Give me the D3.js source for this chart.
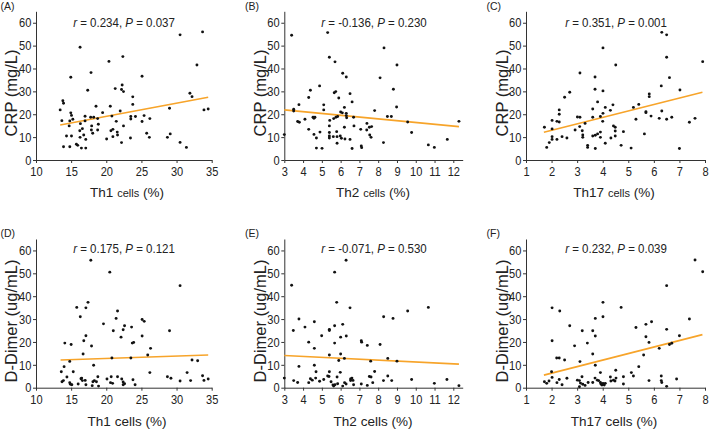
<!DOCTYPE html>
<html><head><meta charset="utf-8">
<script src="https://cdn.jsdelivr.net/npm/d3@7/dist/d3.min.js"></script>
<style>
body{margin:0;background:#fff}
svg{display:block}
text{font-family:"Liberation Sans",Arial,Helvetica,sans-serif;fill:#222}
</style></head>
<body><svg id="chart" width="709" height="432"></svg>
<script>
// ---------------- DATA ----------------
const th1Ticks = [10, 15, 20, 25, 30, 35];
const th2Ticks = [3, 4, 5, 6, 7, 8, 9, 10, 11, 12];
const th17Ticks = [1, 2, 3, 4, 5, 6, 7, 8];
const yTicks = [0, 10, 20, 30, 40, 50, 60];

// (A) Th1 vs CRP
const ptsA = [[16.27,49.3],[20.38,43.1],[22.36,45.2],[17.83,38.2],[14.95,36.2],[25.09,36.6],[17.36,30.5],[21.27,31.2],[22.26,32.8],[22.17,30.8],[22.45,29.9],[23.77,27.6],[13.82,25.9],[13.92,24.8],[13.44,21.9],[18.54,23.5],[20.57,23.5],[23.77,24.3],[19.48,20.7],[21.98,21.4],[14.95,20.6],[15.05,19.5],[13.68,17.2],[14.81,17.1],[15.24,17.8],[16.98,19.1],[17.78,18.7],[18.21,18.7],[18.77,18.1],[16.98,17.1],[20.8,19.2],[23.49,19.0],[23.49,17.9],[24.15,19.0],[25.38,19.4],[25.09,16.8],[26.2,18.1],[14.72,14.9],[16.32,15.9],[17.92,14.9],[18.87,15.6],[21.42,16.9],[16.6,13.7],[17.88,13.1],[18.77,13.1],[16.23,12.8],[18.07,11.7],[20.66,12.8],[20.94,13.4],[21.56,12.2],[22.45,14.9],[14.34,10.5],[15.05,10.5],[16.79,10.9],[16.27,9.9],[17.08,9.0],[20.05,9.2],[20.94,10.2],[21.6,10.9],[23.44,9.6],[22.17,7.6],[25.75,11.7],[26.13,9.9],[13.92,5.8],[14.81,5.8],[15.75,6.9],[15.94,6.4],[16.46,5.2],[17.08,5.2],[28.7,9.9],[29.0,22.6],[29.1,11.4],[30.5,54.7],[30.5,7.7],[31.4,5.5],[31.9,29.2],[32.2,27.7],[32.9,41.5],[33.7,56.0],[33.9,21.9],[34.5,22.3]];
// (B) Th2 vs CRP
const ptsB = [[3.39,54.5],[5.31,55.7],[8.31,49.0],[5.40,44.9],[5.70,42.9],[6.11,37.9],[6.30,36.3],[8.10,35.9],[4.88,32.4],[4.39,30.5],[5.74,29.9],[5.66,29.4],[8.81,30.9],[5.90,27.1],[4.30,27.3],[6.50,29.0],[6.61,25.4],[3.78,24.2],[5.10,24.1],[5.10,21.9],[3.50,22.2],[3.50,21.4],[6.20,23.0],[6.00,21.0],[6.09,20.6],[6.30,20.4],[6.30,19.4],[6.32,18.5],[6.69,18.7],[7.81,21.6],[8.49,19.0],[8.70,19.0],[3.71,16.8],[3.80,16.5],[4.10,17.8],[4.53,18.7],[4.58,18.2],[4.63,18.7],[5.42,17.3],[5.63,18.1],[5.75,18.7],[5.84,19.0],[5.40,14.9],[6.20,14.3],[6.71,14.9],[7.53,14.3],[7.40,16.0],[7.65,14.6],[4.30,13.4],[4.90,12.2],[5.40,12.0],[5.79,12.4],[7.07,13.4],[7.39,13.1],[4.58,11.2],[4.71,9.6],[5.40,10.5],[5.40,9.6],[5.61,10.2],[5.81,10.2],[5.98,10.5],[6.04,9.5],[6.23,9.2],[6.50,9.0],[7.55,10.9],[7.62,9.9],[5.81,7.3],[8.28,7.6],[4.71,5.2],[5.01,5.1],[6.61,5.0],[7.10,6.1],[7.12,5.4],[3.0,11.1],[8.98,23.2],[9.0,41.5],[9.57,16.6],[9.78,12.0],[10.67,6.6],[10.99,5.5],[11.68,9.0],[12.30,16.9]];
// (C) Th17 vs CRP
const ptsC = [[4.01,49.0],[4.51,41.5],[3.11,38.0],[3.70,36.3],[3.70,30.9],[4.01,30.2],[2.71,29.6],[2.51,27.4],[3.80,25.4],[4.40,24.1],[4.10,23.0],[4.30,21.7],[2.30,21.9],[3.61,22.3],[5.20,23.0],[5.41,24.3],[5.30,17.8],[2.30,20.0],[4.01,20.4],[2.02,17.3],[2.21,16.9],[2.30,16.6],[3.01,18.8],[3.11,18.7],[3.61,18.7],[3.91,19.0],[4.00,16.9],[3.31,16.0],[1.72,14.3],[2.02,13.6],[2.92,13.1],[3.10,14.6],[3.20,12.8],[4.42,14.9],[4.49,14.3],[4.81,12.4],[3.71,10.8],[3.80,11.4],[3.91,12.2],[3.61,10.5],[3.22,10.9],[3.22,9.9],[4.49,12.7],[4.49,10.5],[4.32,9.6],[2.02,10.2],[2.02,9.0],[2.21,9.0],[2.41,10.2],[2.60,9.6],[3.91,9.9],[4.10,7.3],[4.72,6.4],[1.91,7.6],[1.81,5.5],[3.41,6.4],[3.41,5.5],[3.71,5.0],[5.11,5.2],[5.63,11.4],[5.69,21.1],[5.69,20.7],[5.82,28.9],[5.82,27.7],[5.89,19.2],[6.21,18.2],[6.29,32.4],[6.31,21.4],[6.31,55.8],[6.50,54.7],[6.50,44.9],[6.50,17.8],[6.61,36.0],[6.70,18.7],[7.02,30.6],[7.00,5.0],[7.39,16.5],[7.61,18.2],[7.91,43.0]];
// (D) Th1 vs D-Dimer
const ptsD = [[17.8,55.7],[20.5,50.5],[17.4,37.3],[15.8,35.1],[17.1,34.9],[21.6,33.5],[16.3,31.0],[21.4,30.3],[25.1,29.8],[25.4,29.0],[19.6,27.9],[22.6,27.1],[23.6,26.5],[21.0,24.9],[22.4,25.3],[17.1,22.7],[22.1,22.1],[25.1,22.6],[16.8,20.5],[14.1,19.5],[15.0,18.9],[17.9,18.2],[23.7,19.5],[23.9,19.8],[26.3,17.2],[25.9,14.3],[16.7,14.7],[20.8,13.0],[23.5,13.0],[18.2,9.8],[14.0,9.2],[14.8,11.5],[13.6,7.0],[15.3,7.0],[26.2,6.6],[14.4,4.7],[13.7,2.6],[13.9,3.1],[14.8,2.2],[14.9,1.5],[15.1,1.3],[16.0,1.6],[16.4,3.9],[16.5,4.2],[16.6,3.1],[17.0,3.2],[17.1,1.3],[18.1,2.6],[18.3,3.1],[18.8,4.8],[18.6,2.6],[18.9,0.7],[18.0,0.9],[20.1,3.8],[20.7,4.8],[20.6,2.2],[20.9,1.9],[21.6,4.8],[22.2,3.8],[22.4,2.5],[22.6,1.7],[22.4,1.3],[23.8,3.5],[24.1,1.3],[28.7,4.8],[29.0,24.9],[29.2,4.1],[30.5,44.6],[30.5,2.9],[31.5,6.6],[32.0,3.1],[32.2,12.1],[33.0,11.8],[33.7,5.2],[33.9,3.2],[34.5,3.8]];
// (E) Th2 vs D-Dimer
const ptsE = [[6.29,55.7],[5.68,50.5],[3.39,44.8],[5.79,37.3],[6.50,34.9],[8.29,31.0],[8.79,30.3],[3.78,30.0],[4.60,28.8],[4.10,26.5],[5.68,27.1],[6.11,27.7],[5.40,25.5],[5.40,25.0],[3.48,25.0],[4.99,22.7],[6.00,22.1],[6.30,22.6],[7.10,20.5],[7.12,19.9],[7.42,18.5],[8.10,18.9],[4.30,19.9],[5.68,19.5],[4.60,17.2],[5.40,14.3],[6.00,14.7],[6.20,12.8],[5.90,11.9],[7.60,11.6],[8.51,12.8],[3.78,9.3],[4.60,9.8],[4.69,7.0],[5.40,7.0],[5.98,6.7],[7.81,7.1],[3.0,4.2],[3.50,3.1],[3.71,2.3],[4.30,2.2],[4.39,3.9],[4.49,3.3],[4.67,4.2],[4.88,2.8],[5.10,3.6],[5.31,5.1],[5.38,4.9],[5.49,2.6],[5.59,1.2],[5.63,0.7],[5.70,1.3],[5.81,4.7],[5.84,1.7],[6.11,0.7],[6.21,2.2],[6.29,1.6],[6.53,3.8],[6.60,4.2],[6.66,3.2],[6.53,3.1],[6.69,1.3],[7.10,1.6],[7.42,1.0],[7.53,4.9],[7.62,4.7],[7.71,2.2],[8.28,3.1],[8.51,5.1],[8.72,3.1],[9.57,33.5],[9.0,11.6],[9.78,3.6],[10.67,35.1],[10.99,1.9],[11.66,3.6],[12.30,0.9]];
// (F) Th17 vs D-Dimer
const ptsF = [[4.01,37.3],[2.02,34.9],[2.32,33.5],[4.72,35.1],[4.01,31.0],[3.71,30.3],[2.71,27.1],[5.30,26.3],[3.61,24.9],[3.20,24.9],[3.71,22.6],[3.40,19.5],[2.02,20.5],[2.90,18.3],[3.61,14.7],[2.20,13.0],[2.30,13.0],[2.51,12.1],[3.11,11.4],[3.71,9.8],[5.60,14.3],[5.41,9.2],[2.00,7.0],[3.91,6.6],[5.12,6.6],[4.51,7.6],[2.02,4.5],[1.72,2.6],[1.81,1.9],[1.90,2.9],[2.21,2.2],[2.30,3.6],[2.41,1.3],[2.60,4.1],[3.01,3.3],[3.09,3.1],[3.19,4.8],[3.13,2.0],[3.09,0.4],[3.22,1.5],[3.31,1.0],[3.43,2.3],[3.61,2.3],[3.70,4.2],[3.79,3.3],[3.84,3.1],[3.91,2.3],[3.93,1.6],[3.97,1.2],[4.01,1.9],[4.06,1.2],[4.10,1.9],[4.30,4.7],[4.32,2.9],[4.42,3.3],[4.48,2.9],[4.52,4.2],[4.81,4.8],[4.81,1.6],[5.20,5.1],[5.69,27.7],[5.69,22.3],[5.81,19.8],[5.91,28.8],[5.81,3.1],[6.21,17.2],[6.29,5.1],[6.29,3.1],[6.31,2.3],[6.50,44.6],[6.50,25.5],[6.50,0.6],[6.61,18.9],[6.70,19.4],[7.00,22.7],[6.89,3.8],[7.39,30.0],[7.61,55.8],[7.91,50.7]];

// fitted regression line end points
const fitA = [[13.44,15.3],[34.5,27.4]];
const fitB = [[3.0,21.9],[12.3,14.6]];
const fitC = [[1.7,12.1],[7.9,29.6]];
const fitD = [[13.5,12.1],[34.5,14.3]];
const fitE = [[3.0,14.1],[12.3,10.3]];
const fitF = [[1.7,5.5],[7.9,23.2]];

const panelLabels = ["(A)","(B)","(C)","(D)","(E)","(F)"];
const rValues = ["0.234","-0.136","0.351","0.175","-0.071","0.232"];
const pValues = ["0.037","0.230","0.001","0.121","0.530","0.039"];
const xNames = ["Th1","Th2","Th17","Th1","Th2","Th17"];
const yTitles = ["CRP (mg/L)","CRP (mg/L)","CRP (mg/L)","D-Dimer (ug/mL)","D-Dimer (ug/mL)","D-Dimer (ug/mL)"];

// ---------------- LAYOUT ----------------
const svg = d3.select("#chart");
const rows = [{y0:160, y1:11.3, labelY:10, statY:26.5, tickTop:true, xtY:197, ytY:93},
              {y0:387.7, y1:239, labelY:237, statY:253, tickTop:false, xtY:426, ytY:321}];
const cols = [{xd:[10,35], xr:[36,211.7], ticks:th1Ticks, labelX:0.5, statX:124, ytX:11, xtX:127},
              {xd:[3,12.5], xr:[284.3,462.7], ticks:th2Ticks, labelX:245, statX:374, ytX:260, xtX:373},
              {xd:[1,8], xr:[526,705], ticks:th17Ticks, labelX:486.5, statX:616, ytX:502, xtX:614}];
const allPts = [ptsA, ptsB, ptsC, ptsD, ptsE, ptsF];
const allFits = [fitA, fitB, fitC, fitD, fitE, fitF];
const SX = 0.84;

allPts.forEach((pts, i) => {
  const r = rows[Math.floor(i/3)], c = cols[i%3];
  const x = d3.scaleLinear().domain(c.xd).range(c.xr);
  const y = d3.scaleLinear().domain([0,65]).range([r.y0, r.y1]);
  const g = svg.append("g");

  // axes
  const xa = g.append("g").attr("transform", `translate(0,${r.y0})`)
    .call(d3.axisBottom(x).tickValues(c.ticks).tickSize(3).tickSizeOuter(0).tickPadding(3.5).tickFormat(d3.format("d")));
  const ya = g.append("g").attr("transform", `translate(${c.xr[0]},0)`)
    .call(d3.axisLeft(y).tickValues(yTicks).tickSize(3).tickSizeOuter(0).tickPadding(2.5).tickFormat(d3.format("d")));
  [xa, ya].forEach(a => {
    a.select(".domain").attr("stroke", "#333").attr("stroke-width", 1);
    a.selectAll(".tick line").attr("stroke", "#333");
    a.selectAll(".tick text").attr("fill", "#222").style("font-size", "13.2px")
      .style("font-family", '"Liberation Sans", Arial, sans-serif')
      .attr("transform", `scale(${SX},1)`);
  });

  // regression line
  g.append("line")
    .attr("x1", x(allFits[i][0][0])).attr("y1", y(allFits[i][0][1]))
    .attr("x2", x(allFits[i][1][0])).attr("y2", y(allFits[i][1][1]))
    .attr("stroke", "#F7A42A").attr("stroke-width", 1.6);

  // points
  g.selectAll("circle.pt").data(pts).join("circle").attr("class","pt")
    .attr("cx", d => x(d[0])).attr("cy", d => y(d[1])).attr("r", 1.45).attr("fill", "#111");

  // panel label
  g.append("text").attr("x", c.labelX).attr("y", r.labelY).style("font-size", "10.5px").text(panelLabels[i]);

  // stat text
  const st = g.append("text").attr("transform", `translate(${c.statX},${r.statY}) scale(0.9,1)`)
    .attr("text-anchor", "middle").style("font-size", "12.8px");
  st.append("tspan").style("font-style", "italic").text("r");
  st.append("tspan").text(` = ${rValues[i]}, `);
  st.append("tspan").style("font-style", "italic").text("P");
  st.append("tspan").text(` = ${pValues[i]}`);

  // y title
  g.append("text").attr("transform", `translate(${c.ytX},${r.ytY}) rotate(-90)`)
    .attr("text-anchor", "middle").attr("dominant-baseline", "central")
    .style("font-size", "16.5px").text(yTitles[i]);

  // x title
  const xt = g.append("text").attr("x", c.xtX).attr("y", r.xtY).attr("text-anchor", "middle").style("font-size", "13.5px");
  xt.append("tspan").text(xNames[i] + " ");
  xt.append("tspan").style("font-size", r.tickTop ? "11px" : "13.5px").text("cells");
  xt.append("tspan").text(" (%)");
});
</script>
</body></html>
